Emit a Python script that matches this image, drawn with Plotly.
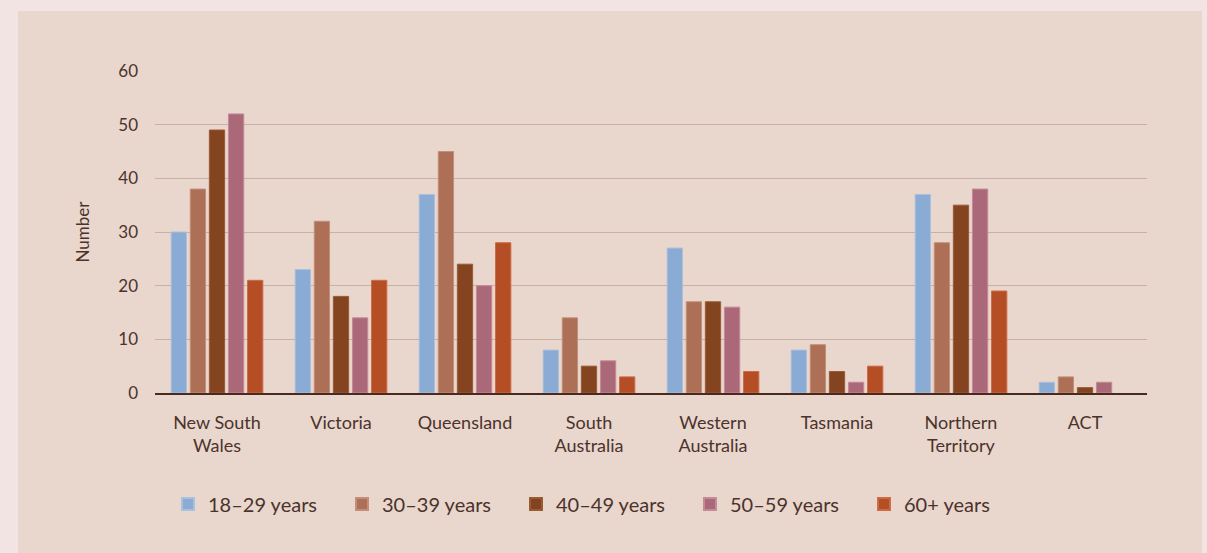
import plotly.graph_objects as go

categories = ["New South<br>Wales", "Victoria", "Queensland", "South<br>Australia",
              "Western<br>Australia", "Tasmania", "Northern<br>Territory", "ACT"]
series_names = ["18–29 years", "30–39 years", "40–49 years", "50–59 years", "60+ years"]
age_18_29 = [30, 23, 37, 8, 27, 8, 37, 2]
age_30_39 = [38, 32, 45, 14, 17, 9, 28, 3]
age_40_49 = [49, 18, 24, 5, 17, 4, 35, 1]
age_50_59 = [52, 14, 20, 6, 16, 2, 38, 2]
age_60_plus = [21, 21, 28, 3, 4, 5, 19, 0]
y_ticks = [0, 10, 20, 30, 40, 50, 60]

colors = ["#8aabd3", "#ad6f55", "#84441f", "#ab6878", "#b54d25"]
outlines = ["#a9c0de", "#c48f78", "#9a5a36", "#c38a97", "#cc6c47"]
series_values = [age_18_29, age_30_39, age_40_49, age_50_59, age_60_plus]

TEXT = "#4b332c"
FONT = "Lato"

fig = go.Figure()
for name, vals, c, oc in zip(series_names, series_values, colors, outlines):
    fig.add_trace(go.Bar(
        x=categories, y=vals, name=name,
        marker=dict(color=c, line=dict(color=oc, width=[1 if v > 0 else 0 for v in vals])),
    ))

W, H = 1207, 553
L, R, T, B = 155, 60, 71, 160
pw, ph = W - L - R, H - T - B

def px_x(p):
    return (p - L) / pw

def px_y(p):
    return (H - B - p) / ph

fig.add_shape(type="rect", xref="paper", yref="paper",
              x0=px_x(18), x1=px_x(1202), y0=px_y(600), y1=px_y(11),
              fillcolor="#e9d6cd", line=dict(width=0), layer="below")

fig.update_layout(
    width=W, height=H,
    margin=dict(l=L, r=R, t=T, b=B),
    paper_bgcolor="#f2e4e3",
    plot_bgcolor="rgba(0,0,0,0)",
    barmode="group",
    bargap=0.23,
    bargroupgap=0.2,
    font=dict(family=FONT, color=TEXT, size=17),
    showlegend=True,
    legend=dict(
        orientation="h", x=px_x(168), xanchor="left", y=px_y(504), yanchor="middle",
        font=dict(size=20, color=TEXT, family=FONT),
        entrywidth=129, entrywidthmode="pixels",
        bgcolor="rgba(0,0,0,0)", itemsizing="constant",
    ),
    xaxis=dict(
        showgrid=False, showline=True, linecolor="#4a2a20", linewidth=2,
        ticks="", tickfont=dict(size=18, color=TEXT, family=FONT),
        ticklabelstandoff=12,
        fixedrange=True,
    ),
    yaxis=dict(
        range=[0, 60], tickvals=y_ticks, showgrid=True, gridcolor="#c8b0a6",
        gridwidth=1, zeroline=False, showline=False, ticks="",
        tickfont=dict(size=17, color=TEXT, family=FONT),
        ticklabelstandoff=16,
        title=dict(text="Number", font=dict(size=17, color=TEXT, family=FONT), standoff=24),
        fixedrange=True,
    ),
)

fig.write_html("out.html")
